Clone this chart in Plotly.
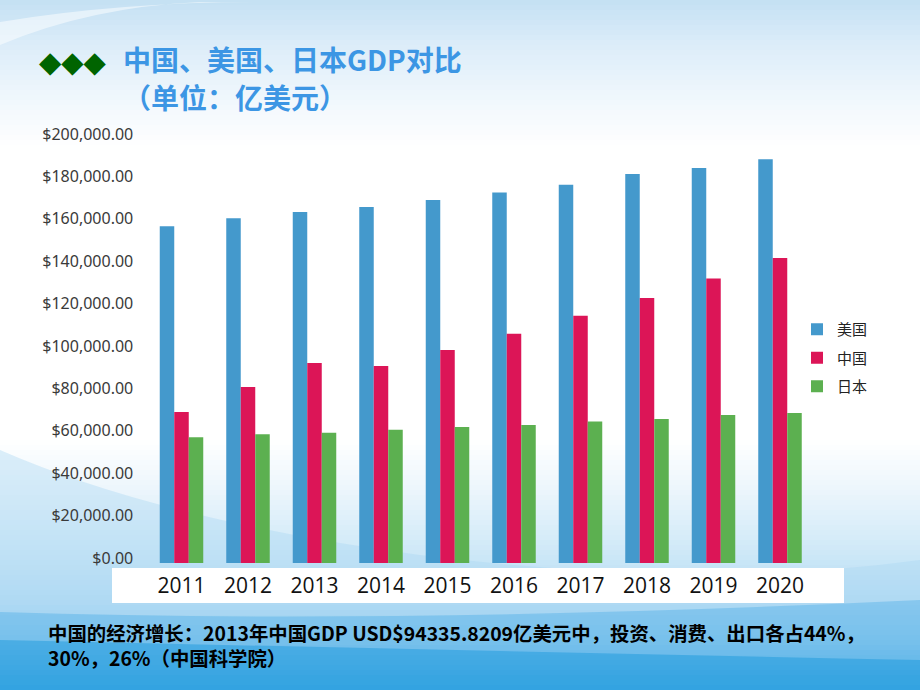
import plotly.graph_objects as go

# ---------------- data ----------------
years = ["2011", "2012", "2013", "2014", "2015", "2016", "2017", "2018", "2019", "2020"]
usa = [158900, 162600, 165600, 167900, 171200, 174800, 178400, 183500, 186300, 190400]
china = [71200, 83000, 94300, 92900, 100500, 108100, 116600, 125000, 134200, 143900]
japan = [59300, 60700, 61400, 62900, 64200, 65100, 66800, 67900, 69800, 70800]
series_names = ["美国", "中国", "日本"]
y_ticks = [0, 20000, 40000, 60000, 80000, 100000, 120000, 140000, 160000, 180000, 200000]

title_line1 = "中国、美国、日本GDP对比"
title_line2 = "（单位：亿美元）"
note_line1 = "中国的经济增长：2013年中国GDP USD$94335.8209亿美元中，投资、消费、出口各占44%，"
note_line2 = "30%，26%（中国科学院）"

# ---------------- styling ----------------
W, H = 920, 690
colors = ["#4499CC", "#DC1557", "#5CB050"]


def px(x):
    return x / W


def py(y):
    return 1 - y / H


def mix(c1, c2, t):
    return tuple(round(a + (b - a) * t) for a, b in zip(c1, c2))


bg_stops = [
    (0, (196, 224, 243)),
    (45, (220, 237, 249)),
    (110, (244, 249, 253)),
    (150, (255, 255, 255)),
    (440, (255, 255, 255)),
    (490, (236, 246, 252)),
    (545, (210, 234, 248)),
    (600, (180, 220, 244)),
    (640, (140, 202, 238)),
    (670, (80, 176, 230)),
    (690, (30, 155, 222)),
]


def bg_color(y):
    for (y0, c0), (y1, c1) in zip(bg_stops, bg_stops[1:]):
        if y0 <= y <= y1:
            return mix(c0, c1, (y - y0) / (y1 - y0))
    return bg_stops[-1][1]


shapes = []
step = 5
for y in range(0, H, step):
    c = bg_color(y + step / 2)
    shapes.append(dict(type="rect", xref="paper", yref="paper",
                       x0=0, x1=1, y0=py(y + step + 1), y1=py(y),
                       fillcolor="rgb(%d,%d,%d)" % c, line=dict(width=0), layer="below"))


def path_from(points_cmds):
    out = []
    for cmd, pts in points_cmds:
        coords = " ".join("%.5f,%.5f" % (px(x), py(y)) for x, y in pts)
        out.append(cmd + " " + coords if coords else cmd)
    return " ".join(out)


wave1 = path_from([("M", [(0, 450)]), ("Q", [(160, 520), (420, 555)]),
                   ("Q", [(700, 590), (920, 560)]), ("L", [(920, 690)]), ("L", [(0, 690)]), ("Z", [])])
shapes.append(dict(type="path", xref="paper", yref="paper", path=wave1,
                   fillcolor="rgba(170,215,242,0.40)", line=dict(width=0), layer="below"))
wave2 = path_from([("M", [(0, 612)]), ("Q", [(400, 625), (920, 600)]),
                   ("L", [(920, 690)]), ("L", [(0, 690)]), ("Z", [])])
shapes.append(dict(type="path", xref="paper", yref="paper", path=wave2,
                   fillcolor="rgba(60,165,228,0.35)", line=dict(width=0), layer="below"))
wave3 = path_from([("M", [(0, 640)]), ("Q", [(450, 650), (920, 660)]),
                   ("L", [(920, 690)]), ("L", [(0, 690)]), ("Z", [])])
shapes.append(dict(type="path", xref="paper", yref="paper", path=wave3,
                   fillcolor="rgba(10,145,218,0.40)", line=dict(width=0), layer="below"))
streak = path_from([("M", [(0, 22)]), ("Q", [(120, 2), (260, 2)]), ("L", [(200, 2)]),
                    ("Q", [(90, 7), (0, 45)]), ("Z", [])])
shapes.append(dict(type="path", xref="paper", yref="paper", path=streak,
                   fillcolor="rgba(255,255,255,0.5)", line=dict(width=0), layer="below"))

shapes.append(dict(type="rect", xref="paper", yref="paper",
                   x0=px(112), x1=px(844), y0=py(603), y1=py(568),
                   fillcolor="white", line=dict(width=0), layer="below"))

# ---------------- figure ----------------
fig = go.Figure()
for name, vals, col in zip(series_names, [usa, china, japan], colors):
    fig.add_trace(go.Bar(x=years, y=vals, name=name, marker=dict(color=col, line=dict(width=0)),
                         legendgroup=name))

fig.update_layout(
    width=W, height=H,
    margin=dict(l=0, r=0, t=0, b=0, pad=0, autoexpand=False),
    paper_bgcolor="white",
    plot_bgcolor="rgba(0,0,0,0)",
    barmode="group",
    bargap=0.346,
    bargroupgap=0,
    shapes=shapes,
    showlegend=True,
    legend=dict(x=px(797), y=py(313), xanchor="left", yanchor="top",
                font=dict(family="Noto Sans CJK SC", size=15, color="#222222"),
                bgcolor="rgba(0,0,0,0)", tracegroupgap=6, itemwidth=30),
    xaxis=dict(domain=[px(148.25), px(813.25)], showgrid=False, showline=False, ticks="",
               tickfont=dict(family="Open Sans", size=21, color="#111111"),
               ticklabelstandoff=8, zeroline=False, automargin=False),
    yaxis=dict(domain=[py(563), py(139)], range=[0, 200000], tickvals=y_ticks,
               tickformat="$,.2f", showgrid=False, showline=False, ticks="", zeroline=False,
               tickfont=dict(family="Noto Sans", size=16, color="#3a3a3a"),
               ticklabelstandoff=14, ticklabelshift=-5, automargin=False),
    font=dict(family="Noto Sans CJK SC"),
)

annotations = [
    dict(text="◆◆◆", x=px(37), y=py(62), xanchor="left", yanchor="middle",
         font=dict(family="DejaVu Sans", size=29, color="#006400")),
    dict(text="<b>" + title_line1 + "</b>", x=px(121), y=py(59), xanchor="left", yanchor="middle",
         font=dict(family="Noto Sans CJK SC", size=28, color="#3C96E4")),
    dict(text="<b>" + title_line2 + "</b>", x=px(121), y=py(97), xanchor="left", yanchor="middle",
         font=dict(family="Noto Sans CJK SC", size=28, color="#3C96E4")),
    dict(text="<b>" + note_line1 + "<br>" + note_line2 + "</b>", x=px(46), y=py(645),
         xanchor="left", yanchor="middle", align="left",
         font=dict(family="Noto Sans CJK SC", size=19.4, color="#000000")),
]
for a in annotations:
    a.update(xref="paper", yref="paper", showarrow=False)
fig.update_layout(annotations=annotations)

page_fix = (
    "document.documentElement.style.margin='0';document.body.style.margin='0';"
    "document.body.style.overflow='hidden';"
)
fig.write_html("out.html", config={"displayModeBar": False}, post_script=page_fix)
